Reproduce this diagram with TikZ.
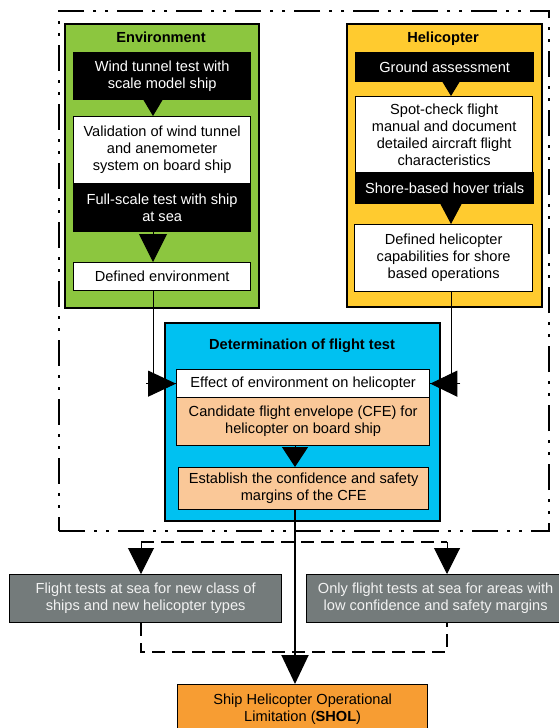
\documentclass[tikz,border=0pt]{standalone}
\usepackage{fontspec}
\setmainfont{Liberation Sans}
\usetikzlibrary{arrows.meta}
\definecolor{envgreen}{HTML}{8CC63F}
\definecolor{heliyellow}{HTML}{FFCB2F}
\definecolor{detcyan}{HTML}{00C1F1}
\definecolor{peach}{HTML}{FAC898}
\definecolor{boxgray}{HTML}{747B7B}
\definecolor{graytext}{HTML}{F2F2F2}
\definecolor{sholorange}{HTML}{F79D33}
\begin{document}
\begin{tikzpicture}[x=1pt,y=-1pt,
  font=\fontsize{14.6}{17}\selectfont,
  panel/.style={draw=black, line width=1.6pt, inner sep=0pt, anchor=north west},
  outerframe/.style={draw=black, line width=2pt, inner sep=0pt, anchor=north west,
    dash pattern=on 26pt off 9pt on 3pt off 9pt on 3pt off 9pt},
  inbox/.style={draw=black, line width=1.3pt, inner sep=0pt, anchor=north west, align=center},
  blackbox/.style={inbox, fill=black, text=white},
  whitebox/.style={inbox, fill=white},
  peachbox/.style={inbox, fill=peach},
  graybox/.style={inbox, fill=boxgray, text=graytext},
  titletext/.style={font=\fontsize{14.6}{17}\selectfont\bfseries},
  conn/.style={draw=black, line width=1pt},
  mainline/.style={draw=black, line width=2pt},
  dashline/.style={draw=black, line width=2pt, dash pattern=on 13pt off 7pt},
  arr/.style 2 args={-{Triangle[width=#1,length=#2]}}
]
\useasboundingbox (0,0) rectangle (558,728);

% outer dash-dot frame
\node[outerframe, minimum width=490pt, minimum height=520pt] (outer) at (58,10) {};

% Environment panel
\node[panel, fill=envgreen, minimum width=194pt, minimum height=284pt] (env) at (64,23) {};
\node[titletext] (envt) at (161,37) {Environment};
\node[blackbox, minimum width=177pt, minimum height=47pt] (b1) at (73,52) {Wind tunnel test with\\scale model ship};
\node[whitebox, minimum width=177pt, minimum height=67pt] (b2) at (73,116) {Validation of wind tunnel\\and anemometer\\system on board ship};
\node[blackbox, minimum width=177pt, minimum height=48pt] (b3) at (73,183) {Full-scale test with ship\\at sea};
\node[whitebox, minimum width=177pt, minimum height=28pt] (b4) at (73,262) {Defined environment};

% Helicopter panel
\node[panel, fill=heliyellow, minimum width=195pt, minimum height=283pt] (heli) at (346,23) {};
\node[titletext] (helit) at (443,39) {Helicopter};
\node[blackbox, minimum width=178pt, minimum height=29pt] (h1) at (355,52) {Ground assessment};
\node[whitebox, minimum width=177pt, minimum height=76pt] (h2) at (355,96) {Spot-check flight\\manual and document\\detailed aircraft flight\\characteristics};
\node[blackbox, minimum width=178pt, minimum height=31pt] (h3) at (355,172) {Shore-based hover trials};
\node[whitebox, minimum width=178pt, minimum height=67pt] (h4) at (354,224) {Defined helicopter\\capabilities for shore\\based operations};

% Determination panel
\node[panel, fill=detcyan, minimum width=275pt, minimum height=198pt] (det) at (164,322) {};
\node[titletext] (dett) at (302,346) {Determination of flight test};
\node[whitebox, minimum width=253pt, minimum height=28pt] (e1) at (176,369) {Effect of environment on helicopter};
\node[peachbox, minimum width=253pt, minimum height=48pt] (e2) at (176,397) {Candidate flight envelope (CFE) for\\helicopter on board ship};
\node[peachbox, minimum width=250pt, minimum height=42pt] (e3) at (178,467) {Establish the confidence and safety\\margins of the CFE};

% bottom boxes
\node[graybox, minimum width=272pt, minimum height=48pt] (g1) at (9,574) {Flight tests at sea for new class of\\ships and new helicopter types};
\node[graybox, minimum width=258pt, minimum height=48pt] (g2) at (306,574) {Only flight tests at sea for areas with\\low confidence and safety margins};
\node[inbox, fill=sholorange, minimum width=250pt, minimum height=50pt] (shol) at (177,684) {Ship Helicopter Operational\\Limitation (\textbf{SHOL})};

% helper coordinates
\coordinate (ex) at (153,0);
\coordinate (hx) at (451,0);
\coordinate (mx) at (295,0);
\coordinate (dl) at (141,542);
\coordinate (dr) at (447,542);
\coordinate (bl) at (141,652);
\coordinate (br) at (447,652);

% connectors inside panels
\draw[conn, arr={20pt}{17pt}] (b1.south -| ex) -- (b2.north -| ex);
\draw[conn, arr={28pt}{28pt}] (b3.south -| ex) -- (b4.north -| ex);
\draw[conn, arr={18pt}{15pt}] (h1.south -| hx) -- (h2.north -| hx);
\draw[conn, arr={22pt}{21pt}] (h3.south -| hx) -- (h4.north -| hx);

% environment / helicopter into effect box
\draw[conn] (b4.south -| ex) |- (e1.west);
\draw[conn, arr={26pt}{28pt}] ([xshift=-30pt]e1.west) -- (e1.west);
\draw[conn] (h4.south -| hx) |- (e1.east);
\draw[conn, arr={26pt}{27pt}] ([xshift=30pt]e1.east) -- (e1.east);

\draw[conn, arr={26pt}{20pt}] (e2.south -| mx) -- (e3.north -| mx);

% dashed branches
\draw[dashline] (dl) -- (dr);
\draw[dashline] (g1.south -| dl) -- (bl) -- (br) -- (g2.south -| dr);
\draw[conn, arr={26pt}{26pt}] (dl) -- (g1.north -| dl);
\draw[conn, arr={26pt}{26pt}] (dr) -- (g2.north -| dr);

% main line to SHOL
\draw[mainline, arr={27pt}{29pt}] (e3.south -| mx) -- (shol.north -| mx);
\end{tikzpicture}
\end{document}
